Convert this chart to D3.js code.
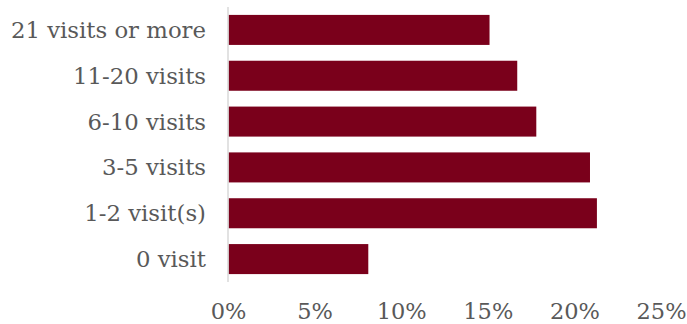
<!DOCTYPE html>
<html>
<head>
<meta charset="utf-8">
<script src="https://cdn.jsdelivr.net/npm/d3@7"></script>
<style>
  html, body { margin: 0; padding: 0; background: #fff; }
  svg { display: block; }
  text { font-family: "DejaVu Serif", serif; fill: #595959; }
</style>
</head>
<body>
<svg id="chart" width="687" height="324"></svg>
<script>
// Share of respondents by number of visits
const categories = ["21 visits or more", "11-20 visits", "6-10 visits", "3-5 visits", "1-2 visit(s)", "0 visit"];
const shares = [15.1, 16.7, 17.8, 20.9, 21.3, 8.1];
const tickValues = [0, 5, 10, 15, 20, 25];

const svg = d3.select("#chart");
const margin = { top: 7, right: 26, bottom: 42, left: 228 };
const width = 687 - margin.left - margin.right;
const height = 324 - margin.top - margin.bottom;

const g = svg.append("g").attr("transform", `translate(${margin.left},${margin.top})`);

const x = d3.scaleLinear().domain([0, 25]).range([0, width]);
const y = d3.scaleBand().domain(categories).range([0, height]).paddingInner(0.345).paddingOuter(0.1725);

// Bars
g.selectAll("rect.bar")
  .data(categories.map((c, i) => ({ c, v: shares[i] })))
  .enter().append("rect")
  .attr("class", "bar")
  .attr("x", x(0) + 0.5)
  .attr("y", d => y(d.c))
  .attr("width", d => x(d.v) - x(0) - 0.5)
  .attr("height", y.bandwidth())
  .attr("fill", "#7a001b");

// Category axis line
g.append("line")
  .attr("x1", x(0)).attr("x2", x(0))
  .attr("y1", 0).attr("y2", height)
  .attr("stroke", "#d9d9d9")
  .attr("stroke-width", 1.5);

// Category labels
const yAxis = d3.axisLeft(y).tickSize(0).tickPadding(22);
const ya = g.append("g").call(yAxis);
ya.select(".domain").remove();
ya.selectAll("text").attr("font-size", 22.8).attr("fill", "#595959").attr("dy", "0.35em");

// Value axis labels
const xAxis = d3.axisBottom(x).tickValues(tickValues).tickFormat(d => d + "%").tickSize(0).tickPadding(0);
const xa = g.append("g").attr("transform", `translate(0,${height})`).call(xAxis);
xa.select(".domain").remove();
xa.selectAll("text").attr("font-size", 22.5).attr("fill", "#595959").attr("dy", null).attr("y", 37);
</script>
</body>
</html>
